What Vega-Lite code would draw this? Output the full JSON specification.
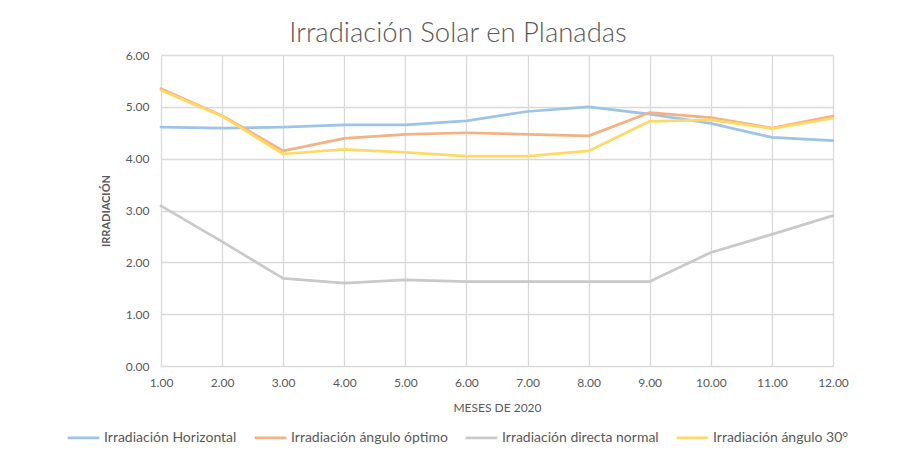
{
  "$schema": "https://vega.github.io/schema/vega-lite/v6.json",
  "autosize": {"type": "none"},
  "width": 672,
  "height": 311,
  "padding": {"left": 161, "top": 55, "right": 68, "bottom": 91},
  "background": "white",
  "title": {
    "text": "Irradiación Solar en Planadas",
    "font": "Lato",
    "fontSize": 27.5,
    "fontWeight": 300,
    "color": "#595959",
    "anchor": "middle",
    "dx": -39,
    "offset": 2
  },
  "config": {
    "view": {"stroke": null},
    "font": "Lato"
  },
  "data": {
    "values": [
      {"mes": 1, "serie": "Irradiación Horizontal", "valor": 4.61},
      {"mes": 2, "serie": "Irradiación Horizontal", "valor": 4.59},
      {"mes": 3, "serie": "Irradiación Horizontal", "valor": 4.61},
      {"mes": 4, "serie": "Irradiación Horizontal", "valor": 4.65},
      {"mes": 5, "serie": "Irradiación Horizontal", "valor": 4.65},
      {"mes": 6, "serie": "Irradiación Horizontal", "valor": 4.73},
      {"mes": 7, "serie": "Irradiación Horizontal", "valor": 4.91},
      {"mes": 8, "serie": "Irradiación Horizontal", "valor": 5.00},
      {"mes": 9, "serie": "Irradiación Horizontal", "valor": 4.86},
      {"mes": 10, "serie": "Irradiación Horizontal", "valor": 4.68},
      {"mes": 11, "serie": "Irradiación Horizontal", "valor": 4.41},
      {"mes": 12, "serie": "Irradiación Horizontal", "valor": 4.35},
      {"mes": 1, "serie": "Irradiación ángulo óptimo", "valor": 5.35},
      {"mes": 2, "serie": "Irradiación ángulo óptimo", "valor": 4.83},
      {"mes": 3, "serie": "Irradiación ángulo óptimo", "valor": 4.15},
      {"mes": 4, "serie": "Irradiación ángulo óptimo", "valor": 4.39},
      {"mes": 5, "serie": "Irradiación ángulo óptimo", "valor": 4.47},
      {"mes": 6, "serie": "Irradiación ángulo óptimo", "valor": 4.50},
      {"mes": 7, "serie": "Irradiación ángulo óptimo", "valor": 4.47},
      {"mes": 8, "serie": "Irradiación ángulo óptimo", "valor": 4.44},
      {"mes": 9, "serie": "Irradiación ángulo óptimo", "valor": 4.89},
      {"mes": 10, "serie": "Irradiación ángulo óptimo", "valor": 4.79},
      {"mes": 11, "serie": "Irradiación ángulo óptimo", "valor": 4.59},
      {"mes": 12, "serie": "Irradiación ángulo óptimo", "valor": 4.82},
      {"mes": 1, "serie": "Irradiación directa normal", "valor": 3.09},
      {"mes": 2, "serie": "Irradiación directa normal", "valor": 2.40},
      {"mes": 3, "serie": "Irradiación directa normal", "valor": 1.69},
      {"mes": 4, "serie": "Irradiación directa normal", "valor": 1.60},
      {"mes": 5, "serie": "Irradiación directa normal", "valor": 1.66},
      {"mes": 6, "serie": "Irradiación directa normal", "valor": 1.63},
      {"mes": 7, "serie": "Irradiación directa normal", "valor": 1.63},
      {"mes": 8, "serie": "Irradiación directa normal", "valor": 1.63},
      {"mes": 9, "serie": "Irradiación directa normal", "valor": 1.63},
      {"mes": 10, "serie": "Irradiación directa normal", "valor": 2.19},
      {"mes": 11, "serie": "Irradiación directa normal", "valor": 2.54},
      {"mes": 12, "serie": "Irradiación directa normal", "valor": 2.90},
      {"mes": 1, "serie": "Irradiación ángulo 30°", "valor": 5.32},
      {"mes": 2, "serie": "Irradiación ángulo 30°", "valor": 4.82},
      {"mes": 3, "serie": "Irradiación ángulo 30°", "valor": 4.09},
      {"mes": 4, "serie": "Irradiación ángulo 30°", "valor": 4.18},
      {"mes": 5, "serie": "Irradiación ángulo 30°", "valor": 4.12},
      {"mes": 6, "serie": "Irradiación ángulo 30°", "valor": 4.05},
      {"mes": 7, "serie": "Irradiación ángulo 30°", "valor": 4.05},
      {"mes": 8, "serie": "Irradiación ángulo 30°", "valor": 4.15},
      {"mes": 9, "serie": "Irradiación ángulo 30°", "valor": 4.72},
      {"mes": 10, "serie": "Irradiación ángulo 30°", "valor": 4.75},
      {"mes": 11, "serie": "Irradiación ángulo 30°", "valor": 4.58},
      {"mes": 12, "serie": "Irradiación ángulo 30°", "valor": 4.78}
    ]
  },
  "mark": {"type": "line", "strokeWidth": 2.75, "strokeCap": "round", "strokeJoin": "round"},
  "encoding": {
    "x": {
      "field": "mes",
      "type": "quantitative",
      "scale": {"domain": [1, 12], "nice": false, "zero": false},
      "axis": {
        "values": [1, 2, 3, 4, 5, 6, 7, 8, 9, 10, 11, 12],
        "format": ".2f",
        "title": "MESES DE 2020",
        "titleFont": "Lato",
        "titleFontSize": 12,
        "titleFontWeight": "normal",
        "titleColor": "#595959",
        "titlePadding": 14,
        "labelFont": "Lato",
        "labelFontSize": 12,
        "labelColor": "#595959",
        "labelPadding": 11,
        "labelFlush": false,
        "labelOverlap": false,
        "ticks": false,
        "domainColor": "#d9d9d9",
        "gridColor": "#d9d9d9",
        "gridWidth": 1.3
      }
    },
    "y": {
      "field": "valor",
      "type": "quantitative",
      "scale": {"domain": [0, 6], "nice": false},
      "axis": {
        "values": [0, 1, 2, 3, 4, 5, 6],
        "format": ".2f",
        "title": "IRRADIACIÓN",
        "titleFont": "Lato",
        "titleFontSize": 11,
        "titleFontWeight": "bold",
        "titleColor": "#595959",
        "titlePadding": 14,
        "labelFont": "Lato",
        "labelFontSize": 12,
        "labelColor": "#595959",
        "labelPadding": 12,
        "ticks": false,
        "domain": false,
        "gridColor": "#d9d9d9",
        "gridWidth": 1.3
      }
    },
    "color": {
      "field": "serie",
      "type": "nominal",
      "sort": ["Irradiación Horizontal", "Irradiación ángulo óptimo", "Irradiación directa normal", "Irradiación ángulo 30°"],
      "scale": {
        "domain": ["Irradiación Horizontal", "Irradiación ángulo óptimo", "Irradiación directa normal", "Irradiación ángulo 30°"],
        "range": ["#9dc3e6", "#f4b183", "#c9c9c9", "#ffd966"]
      },
      "legend": {
        "title": null,
        "orient": "none",
        "legendX": -95,
        "legendY": 365,
        "direction": "horizontal",
        "symbolType": "stroke",
        "symbolSize": 1000,
        "symbolStrokeWidth": 2.75,
        "labelFont": "Lato",
        "labelFontSize": 14,
        "labelColor": "#595959",
        "columnPadding": 12,
        "labelOffset": 3
      }
    },
    "order": {"field": "serie"}
  }
}
